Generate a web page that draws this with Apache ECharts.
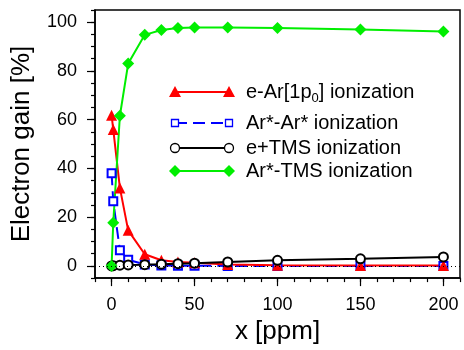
<!DOCTYPE html>
<html>
<head>
<meta charset="utf-8">
<script src="https://cdn.jsdelivr.net/npm/echarts@6/dist/echarts.min.js"></script>
<style>
  html, body { margin: 0; padding: 0; background: #fff; }
  #main { width: 464px; height: 350px; }
</style>
</head>
<body>
<div id="main"></div>
<script>
// x positions [ppm]
const xPpm = [0, 1, 5, 10, 20, 30, 40, 50, 70, 100, 150, 200];
// electron gain [%] per process
const eArIon = [61.8, 56, 32, 14.6, 4.8, 2.3, 1.6, 1.3, 0.6, 0.3, 0.2, 0.2];
const arArIon = [38, 26.5, 6.4, 2.5, 0.6, 0.2, 0.1, 0.1, 0, 0, 0, 0];
const eTmsIon = [0, 0.1, 0.3, 0.4, 0.5, 0.7, 0.9, 1.1, 1.6, 2.3, 2.9, 3.7];
const arTmsIon = [0, 17.7, 61.6, 83, 94.8, 96.8, 97.6, 97.8, 97.8, 97.6, 97, 96.2];
const xLabels = [0, 50, 100, 150, 200];
const yLabels = [0, 20, 40, 60, 80, 100];

const FONT = '"Liberation Sans", Arial, sans-serif';
const pair = (ys) => xPpm.map((x, i) => [x, ys[i]]);

const chart = echarts.init(document.getElementById('main'));

// legend drawn by hand: symbols at both ends of the line sample
function legendRow(y, color, dash, sym, text) {
  const x1 = 175, x2 = 229;
  const els = [{
    type: 'line', shape: { x1: x1, y1: y, x2: x2, y2: y },
    style: { stroke: color, lineWidth: 2, lineDash: dash }
  }];
  [x1, x2].forEach(function (cx) {
    if (sym === 'tri') {
      els.push({ type: 'polygon', shape: { points: [[cx, y - 6], [cx + 6, y + 5], [cx - 6, y + 5]] }, style: { fill: color } });
    } else if (sym === 'rect') {
      els.push({ type: 'rect', shape: { x: cx - 3.5, y: y - 3.5, width: 7, height: 7 }, style: { fill: '#fff', stroke: color, lineWidth: 1.3 } });
    } else if (sym === 'circle') {
      els.push({ type: 'circle', shape: { cx: cx, cy: y, r: 4.5 }, style: { fill: '#fff', stroke: color, lineWidth: 1.3 } });
    } else {
      els.push({ type: 'polygon', shape: { points: [[cx, y - 6], [cx + 6, y], [cx, y + 6], [cx - 6, y]] }, style: { fill: color } });
    }
  });
  els.push({
    type: 'text', x: 246, y: y,
    style: {
      text: text, fill: '#000', fontSize: 20, fontFamily: FONT, verticalAlign: 'middle',
      rich: { sub: { fontSize: 13, fontFamily: FONT, padding: [13, 0, 0, 0] } }
    }
  });
  return els;
}

const legendEls = [].concat(
  legendRow(92, '#ff0000', null, 'tri', 'e-Ar[1p{sub|0}] ionization'),
  legendRow(123, '#0000ff', [12, 6], 'rect', 'Ar*-Ar* ionization'),
  legendRow(148, '#000000', null, 'circle', 'e+TMS ionization'),
  legendRow(171, '#00ee00', null, 'diamond', 'Ar*-TMS ionization')
);

const option = {
  backgroundColor: '#ffffff',
  animation: false,
  textStyle: { fontFamily: FONT },
  grid: {
    left: 95, right: 4, top: 10, bottom: 66,
    show: true, borderColor: '#000', borderWidth: 1.5
  },
  xAxis: [
    {
      type: 'value', min: -10, max: 210, interval: 10,
      name: 'x [ppm]', nameLocation: 'middle', nameGap: 37,
      nameTextStyle: { fontSize: 26, color: '#000', fontFamily: FONT },
      axisLine: { show: true, onZero: false, lineStyle: { color: '#000', width: 1.5 } },
      axisTick: { show: true, inside: false, length: 4, lineStyle: { color: '#000', width: 1.2 } },
      axisLabel: { customValues: xLabels, fontSize: 18, color: '#000', margin: 18, fontFamily: FONT },
      splitLine: { show: false }
    },
    {
      // major ticks only
      type: 'value', min: -10, max: 210, interval: 10, position: 'bottom',
      axisLine: { show: false, onZero: false },
      axisTick: { show: true, inside: false, length: 8, customValues: xLabels, lineStyle: { color: '#000', width: 1.2 } },
      axisLabel: { show: false },
      splitLine: { show: false }
    }
  ],
  yAxis: [
    {
      type: 'value', min: -5, max: 105, interval: 5,
      name: 'Electron gain [%]', nameLocation: 'middle', nameGap: 60,
      nameTextStyle: { fontSize: 26, color: '#000', fontFamily: FONT },
      axisLine: { show: true, onZero: false, lineStyle: { color: '#000', width: 1.5 } },
      axisTick: { show: true, inside: false, length: 4, lineStyle: { color: '#000', width: 1.2 } },
      axisLabel: { customValues: yLabels, fontSize: 18, color: '#000', margin: 18, fontFamily: FONT },
      splitLine: { show: false }
    },
    {
      // major ticks only
      type: 'value', min: -5, max: 105, interval: 5, position: 'left',
      axisLine: { show: false, onZero: false },
      axisTick: { show: true, inside: false, length: 8, customValues: yLabels, lineStyle: { color: '#000', width: 1.2 } },
      axisLabel: { show: false },
      splitLine: { show: false }
    }
  ],
  series: [
    {
      name: 'Ar*-Ar* ionization', type: 'line', data: pair(arArIon),
      symbol: 'emptyRect', symbolSize: 8,
      lineStyle: { color: '#0000ff', width: 2, type: [12, 6] },
      itemStyle: { color: '#0000ff', borderWidth: 1.3 },
      markLine: {
        silent: true, symbol: 'none', label: { show: false },
        lineStyle: { color: '#000', width: 1, type: [1, 3] },
        data: [{ yAxis: 0 }]
      }
    },
    {
      name: 'e-Ar[1p0] ionization', type: 'line', data: pair(eArIon),
      symbol: 'triangle', symbolSize: 11,
      lineStyle: { color: '#ff0000', width: 2 },
      itemStyle: { color: '#ff0000' }
    },
    {
      name: 'e+TMS ionization', type: 'line', data: pair(eTmsIon),
      symbol: 'emptyCircle', symbolSize: 9,
      lineStyle: { color: '#000', width: 2 },
      itemStyle: { color: '#000', borderWidth: 1.3 }
    },
    {
      name: 'Ar*-TMS ionization', type: 'line', data: pair(arTmsIon),
      symbol: 'diamond', symbolSize: 12,
      lineStyle: { color: '#00ee00', width: 2 },
      itemStyle: { color: '#00ee00' }
    }
  ],
  graphic: legendEls
};

chart.setOption(option);
</script>
</body>
</html>
